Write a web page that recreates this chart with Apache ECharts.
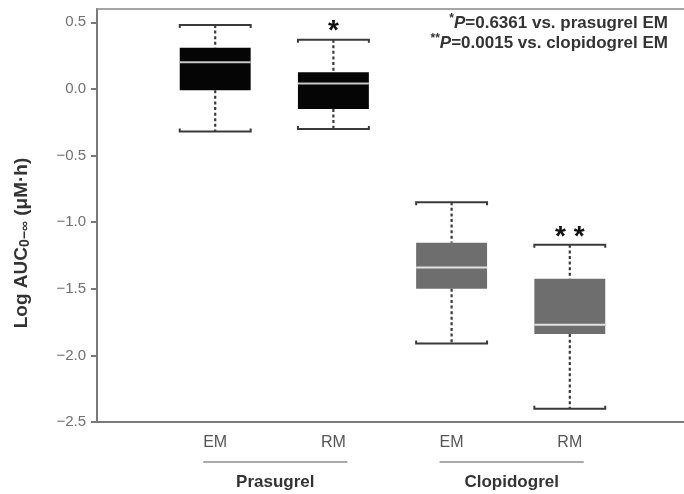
<!DOCTYPE html>
<html><head><meta charset="utf-8">
<script src="https://cdn.jsdelivr.net/npm/echarts@6/dist/echarts.min.js"></script>
<style>html,body{margin:0;padding:0;background:#fff}#c{width:684px;height:494px}</style>
</head><body><div id="c"></div>
<script>
// ---- data ----
const categories = ['EM', 'RM', 'EM', 'RM'];
const groupNames = ['Prasugrel', 'Clopidogrel'];
const groupOfBox = [0, 0, 1, 1];
const whiskerLow  = [-0.32, -0.30, -1.91, -2.40];
const quartile1   = [-0.01, -0.15, -1.50, -1.84];
const medians     = [0.20, 0.04, -1.34, -1.77];
const quartile3   = [0.31, 0.125, -1.155, -1.425];
const whiskerHigh = [0.48, 0.37, -0.85, -1.17];
const significance = ['', '*', '', '* *'];
const yTicks = [-2.5, -2.0, -1.5, -1.0, -0.5, 0.0, 0.5];
const noteLines = [
  { mark: '*', p: 'P', rest: '=0.6361 vs. prasugrel EM' },
  { mark: '**', p: 'P', rest: '=0.0015 vs. clopidogrel EM' }
];

// ---- styles ----
const FONT = 'Liberation Sans, Arial, sans-serif';
const groupFill = ['#050505', '#6e6e6e'];
const medianColor = ['#c8c8c8', '#e2e2e2'];
const whiskerColor = '#3a3a3a';

const axisCats = [''].concat(categories, ['']);
const boxData = categories.map((c, i) => [i + 1, whiskerLow[i], quartile1[i], medians[i], quartile3[i], whiskerHigh[i]]);
const groupData = groupNames.map((g, gi) => {
  const idx = groupOfBox.map((v, i) => v === gi ? i + 1 : null).filter(v => v !== null);
  return [Math.min(...idx), Math.max(...idx), gi];
});

const chart = echarts.init(document.getElementById('c'), null, { renderer: 'canvas' });
chart.setOption({
  animation: false,
  backgroundColor: '#fff',
  grid: { left: 97, right: -4, top: 9, bottom: 72, containLabel: false, outerBoundsMode: 'none' },
  xAxis: [{
    type: 'category', data: axisCats, boundaryGap: false,
    axisLine: { onZero: false, lineStyle: { color: '#7a7a7a', width: 2 } },
    axisTick: { show: false },
    axisLabel: { color: '#555', fontSize: 16, fontFamily: FONT, margin: 13 }
  }, {
    type: 'category', data: axisCats, boundaryGap: false, position: 'top',
    axisLine: { onZero: false, lineStyle: { color: '#888', width: 1.5 } },
    axisTick: { show: false }, axisLabel: { show: false }
  }],
  yAxis: {
    type: 'value', min: -2.5, max: 0.6, interval: 0.5,
    axisLine: { show: true, lineStyle: { color: '#7a7a7a', width: 2 } },
    axisTick: { show: true, length: 6, customValues: yTicks, lineStyle: { color: '#7a7a7a', width: 2 } },
    axisLabel: {
      customValues: yTicks, color: '#707070', fontSize: 15, fontFamily: FONT, margin: 11,
      formatter: v => (v < 0 ? '\u2212' : '') + Math.abs(v).toFixed(1)
    },
    splitLine: { show: false }
  },
  graphic: [
    {
      type: 'text', x: 22, y: 243, rotation: Math.PI / 2,
      style: {
        text: '{a|Log AUC}{s|0\u2212\u221E}{a| (\u03BCM\u00B7h)}',
        align: 'center', verticalAlign: 'middle',
        rich: {
          a: { font: 'bold 19px ' + FONT, fill: '#333', lineHeight: 21 },
          s: { font: 'bold 14px ' + FONT, fill: '#333', lineHeight: 14, verticalAlign: 'bottom' }
        }
      }
    },
    ...noteLines.map((n, i) => ({
      type: 'text', right: 16, top: 13 + i * 20,
      style: {
        text: '{s|' + n.mark + '}{i|' + n.p + '}{n|' + n.rest + '}',
        rich: {
          s: { font: 'bold 12px ' + FONT, fill: '#333', lineHeight: 20, verticalAlign: 'top' },
          i: { font: 'italic bold 17px ' + FONT, fill: '#333', lineHeight: 20 },
          n: { font: 'bold 17px ' + FONT, fill: '#333', lineHeight: 20 }
        }
      }
    }))
  ],
  series: [{
    type: 'custom', clip: false,
    encode: { x: 0, y: [1, 2, 3, 4, 5] },
    data: boxData,
    renderItem: function (params, api) {
      const i = params.dataIndex;
      const cat = api.value(0);
      const x = api.coord([cat, 0])[0];
      const w = api.size([1, 0])[0] * 0.6;
      const yLo = api.coord([cat, api.value(1)])[1];
      const yQ1 = api.coord([cat, api.value(2)])[1];
      const yMed = api.coord([cat, api.value(3)])[1];
      const yQ3 = api.coord([cat, api.value(4)])[1];
      const yHi = api.coord([cat, api.value(5)])[1];
      const g = groupOfBox[i];
      const dotted = { stroke: whiskerColor, lineWidth: 2.2, lineDash: [3, 2.6], fill: 'none' };
      const solid = { stroke: whiskerColor, lineWidth: 2, fill: 'none' };
      return {
        type: 'group',
        children: [
          { type: 'line', shape: { x1: x, y1: yHi, x2: x, y2: yQ3 }, style: dotted },
          { type: 'line', shape: { x1: x, y1: yQ1, x2: x, y2: yLo }, style: dotted },
          { type: 'polyline', shape: { points: [[x - w / 2, yHi + 3], [x - w / 2, yHi], [x + w / 2, yHi], [x + w / 2, yHi + 3]] }, style: solid },
          { type: 'polyline', shape: { points: [[x - w / 2, yLo - 3], [x - w / 2, yLo], [x + w / 2, yLo], [x + w / 2, yLo - 3]] }, style: solid },
          { type: 'rect', shape: { x: x - w / 2, y: yQ3, width: w, height: yQ1 - yQ3 }, style: { fill: groupFill[g], stroke: null } },
          { type: 'line', shape: { x1: x - w / 2, y1: yMed, x2: x + w / 2, y2: yMed }, style: { stroke: medianColor[g], lineWidth: 2 } },
          { type: 'text', x: x, y: yHi - 8, style: { text: significance[i], align: 'center', verticalAlign: 'middle', font: 'bold 28px ' + FONT, fill: '#111' } }
        ]
      };
    }
  }, {
    type: 'custom', clip: false,
    encode: { x: [0, 1] },
    data: groupData,
    renderItem: function (params, api) {
      const a = api.coord([api.value(0), -2.5]);
      const b = api.coord([api.value(1), -2.5]);
      const name = groupNames[api.value(2)];
      return {
        type: 'group',
        children: [
          { type: 'line', shape: { x1: a[0] - 12, y1: a[1] + 40, x2: b[0] + 14, y2: a[1] + 40 }, style: { stroke: '#aaa', lineWidth: 2 } },
          { type: 'text', x: (a[0] + b[0]) / 2 + 1, y: a[1] + 60, style: { text: name, align: 'center', verticalAlign: 'middle', font: 'bold 17px ' + FONT, fill: '#333' } }
        ]
      };
    }
  }]
});
</script></body></html>
